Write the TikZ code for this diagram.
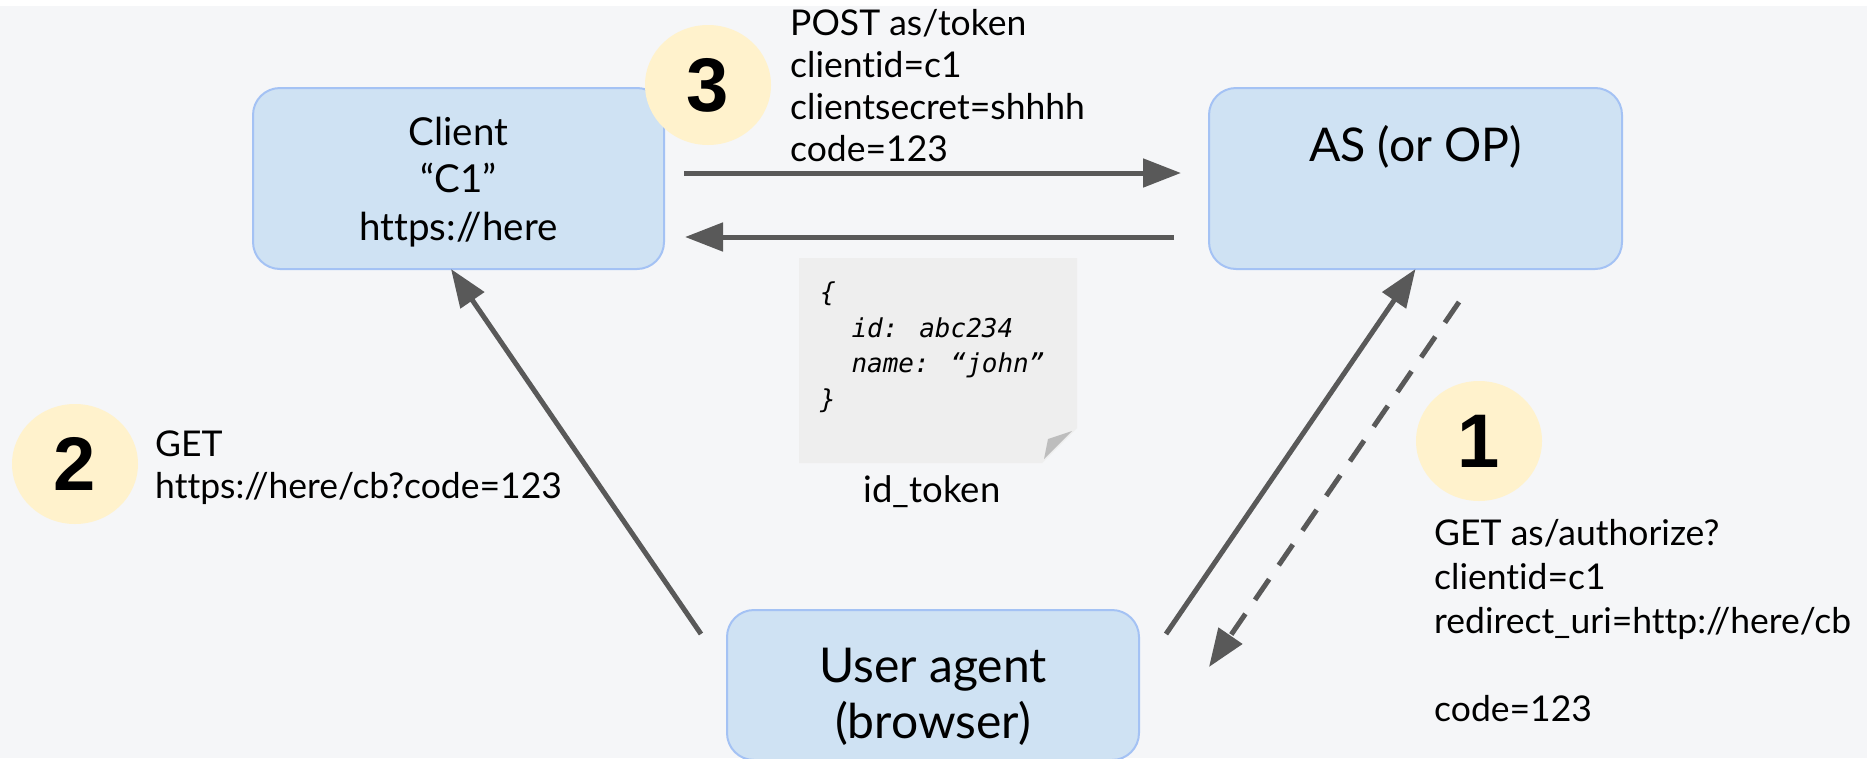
\documentclass[tikz,border=0pt]{standalone}
\usepackage{fontspec}
\setmainfont{Lato}[Ligatures=NoCommon]
\newfontfamily\numfont{Liberation Sans}
\newfontfamily\codefont{DejaVu Sans Mono}
\usetikzlibrary{arrows.meta,calc,shapes.geometric}
\definecolor{bgcol}{HTML}{F5F6F8}
\definecolor{boxfill}{HTML}{CFE2F3}
\definecolor{boxline}{HTML}{A4C2F4}
\definecolor{arrowgray}{HTML}{595959}
\definecolor{badgecol}{HTML}{FFF2CC}
\definecolor{notefill}{HTML}{EEEEEE}
\definecolor{foldfill}{HTML}{BDBDBD}
\tikzset{
  box/.style={draw=boxline, fill=boxfill, line width=2pt, rounded corners=27pt, inner sep=0pt, outer sep=0pt},
  badge/.style={ellipse, fill=badgecol, minimum width=126pt, minimum height=120pt, inner sep=0pt, font=\numfont\bfseries\fontsize{76}{76}\selectfont},
  lbl/.style={font=\fontsize{35.5}{41.7}\selectfont, align=left, inner sep=0pt, anchor=base west},
  arr/.style={draw=arrowgray, line width=5pt, -{Triangle[length=38pt,width=28pt]}},
  dasharr/.style={arr, dash pattern=on 25pt off 17pt},
}
\begin{document}
\begin{tikzpicture}[x=1pt,y=-1pt]
\useasboundingbox (0,0) rectangle (1867,758);
\fill[white] (0,0) rectangle (1867,758);
\fill[bgcol] (0,6) rectangle (1867,758);

% boxes
\node[box, minimum width=411pt, minimum height=181pt] (client) at (458.5,178.5) {};
\node[font=\fontsize{38.5}{47.5}\selectfont, anchor=base, align=center, inner sep=0pt] (clienttext) at (458.5,240) {Client\\“C1”\\https://here};
\node[box, minimum width=413pt, minimum height=181pt] (as) at (1415.5,178.5) {};
\node[font=\fontsize{46.5}{54}\selectfont, anchor=base, inner sep=0pt] (astext) at (1415.5,161) {AS (or OP)};
\node[box, minimum width=412pt, minimum height=150pt] (ua) at (933,685) {};
\node[font=\fontsize{48}{56}\selectfont, anchor=base, align=center, inner sep=0pt] (uatext) at (933,738) {User agent\\(browser)};

% note (id_token)
\fill[notefill] (799,258) -- (1077,258) -- (1077,428) -- (1042,463) -- (799,463) -- cycle;
\fill[foldfill] (1072,431) -- (1048,439) -- (1044,459) -- cycle;
\node[anchor=base west, font=\codefont\itshape\fontsize{26}{35.5}\selectfont, align=left, inner sep=0pt] (code) at (820,408) {\{\\\phantom{xx}id: abc234\\\phantom{xx}name: “john”\\\}};
\node[anchor=base, font=\fontsize{36.5}{40}\selectfont, inner sep=0pt] (idtok) at (932,502) {id\_token};

% arrows
\draw[arr] ($(client.east)+(20,-5.5)$) -- ($(as.west)+(-28,-5.5)$);
\draw[arr] ($(as.west)+(-35,58.5)$) -- ($(client.east)+(21,58.5)$);
\draw[arr] ($(ua.west)+(-26,-51)$) -- ($(client.south)+(-7.5,0)$);
\draw[arr] ($(ua.east)+(27,-51)$) -- (as.south);
\draw[dasharr] ($(as.south)+(43.5,33)$) -- ($(ua.east)+(70,-18)$);

% badges
\node[badge] (b3) at (708,85) {3};
\node[badge] (b2) at (75,464) {2};
\node[badge] (b1) at (1479,441) {1};

% labels
\node[lbl] (l3) at (790,161) {POST as/token\\clientid=c1\\clientsecret=shhhh\\code=123};
\node[lbl] (l2) at (155,498) {GET\\https://here/cb?code=123};
\node[lbl, font=\fontsize{35.5}{44}\selectfont] (l1) at (1434,721) {GET as/authorize?\\clientid=c1\\redirect\_uri=http://here/cb\\[44pt]code=123};
\end{tikzpicture}
\end{document}
